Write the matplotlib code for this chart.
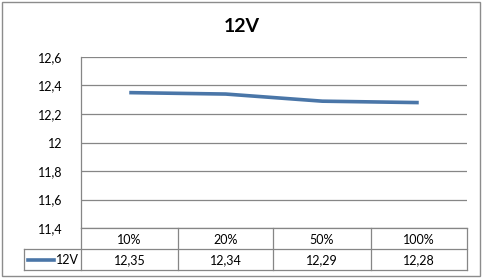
import matplotlib
matplotlib.use("Agg")
import matplotlib.pyplot as plt
from matplotlib.lines import Line2D
from matplotlib.patches import Rectangle

categories = ["10%", "20%", "50%", "100%"]
values_12v = [12.35, 12.34, 12.29, 12.28]
series_name = "12V"
yticks = [11.4, 11.6, 11.8, 12.0, 12.2, 12.4, 12.6]

W, H = 483, 279
line_col = "#4a76a8"
grid_col = "#868686"

plt.rcParams["font.family"] = ["Lato", "DejaVu Sans"]

fig = plt.figure(figsize=(W / 100, H / 100), dpi=100)

def fx(px):
    return px / W

def fy(py):
    return 1 - py / H

# outer frame
fig.add_artist(Rectangle((fx(2), fy(276)), fx(478), 274 / H, transform=fig.transFigure,
                         fill=False, edgecolor="#8c8c8c", lw=1))

left, right, top, bottom = 81, 467, 57, 228
ax = fig.add_axes([fx(left), fy(bottom), fx(right - left), (bottom - top) / H])
x = list(range(len(categories)))
ax.plot(x, values_12v, color=line_col, lw=2.6, solid_capstyle="butt")
ax.set_xlim(-0.5, len(categories) - 0.5)
ax.set_ylim(11.4, 12.6)
ax.set_yticks(yticks)
ax.set_yticklabels([f"{v:g}".replace(".", ",") for v in yticks], fontsize=9)
ax.set_xticks([])
ax.tick_params(axis="y", length=0, pad=13)
ax.grid(axis="y", color=grid_col, lw=0.9)
for s in ["top", "right", "bottom"]:
    ax.spines[s].set_visible(False)
ax.spines["left"].set_color(grid_col)
ax.spines["left"].set_linewidth(0.9)

fig.text(0.5, fy(27), "12V", ha="center", va="center", fontsize=14, fontweight="bold")

# data table below the axis
col_x = [81, 178, 273, 371, 467]
row1, row2, row3 = 228, 249, 270
leg_x = 24
def hline(x0, x1, y):
    fig.add_artist(Line2D([fx(x0), fx(x1)], [fy(y), fy(y)], color=grid_col, lw=0.9))
def vline(xx, y0, y1):
    fig.add_artist(Line2D([fx(xx), fx(xx)], [fy(y0), fy(y1)], color=grid_col, lw=0.9))

hline(left, right, row1)
hline(leg_x, right, row2)
hline(leg_x, right, row3)
vline(leg_x, row2, row3)
for cx in col_x:
    vline(cx, row1, row3)

for i, (c, v) in enumerate(zip(categories, values_12v)):
    cx = (col_x[i] + col_x[i + 1]) / 2
    fig.text(fx(cx), fy((row1 + row2) / 2 + 1), c, ha="center", va="center", fontsize=9)
    fig.text(fx(cx), fy((row2 + row3) / 2 + 1), f"{v:.2f}".replace(".", ","),
             ha="center", va="center", fontsize=9)

fig.add_artist(Line2D([fx(28), fx(54)], [fy(259.5), fy(259.5)], color=line_col, lw=2.6))
fig.text(fx(56), fy(260), series_name, ha="left", va="center", fontsize=9)

fig.savefig("out.png", dpi=100, facecolor="white")
